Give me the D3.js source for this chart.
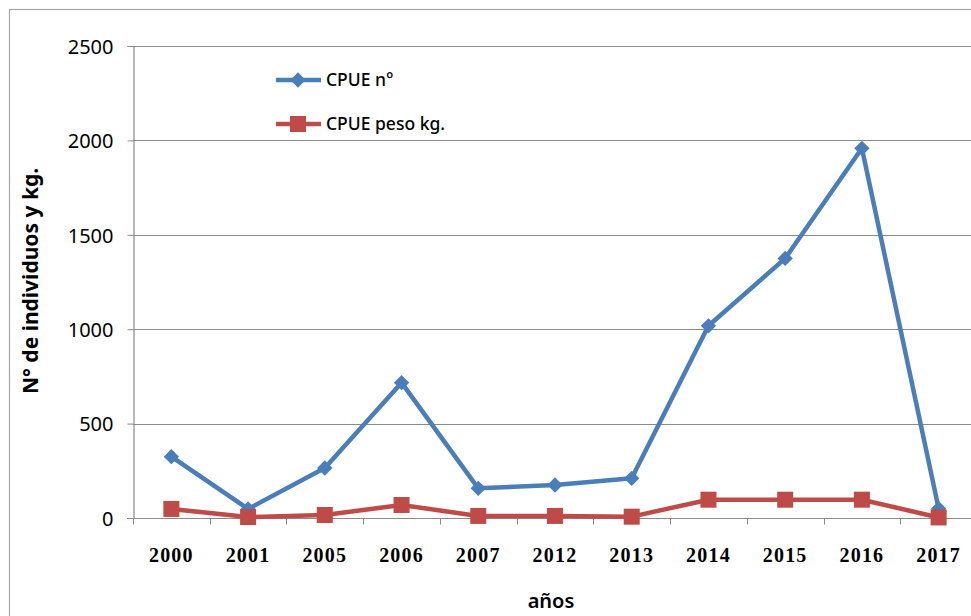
<!DOCTYPE html>
<html>
<head>
<meta charset="utf-8">
<script src="https://cdn.jsdelivr.net/npm/d3@7"></script>
<style>
  html, body { margin: 0; padding: 0; background: #fff; overflow: hidden; }
  svg { display: block; }
  text { font-family: "Noto Sans", "Open Sans", sans-serif; fill: #000; }
</style>
</head>
<body>
<svg id="chart" width="971" height="616"></svg>
<script>
// Catch per unit effort by year
const years = ["2000", "2001", "2005", "2006", "2007", "2012", "2013", "2014", "2015", "2016", "2017"];
const cpueNumber = [325, 48, 265, 717, 157, 175, 210, 1018, 1375, 1958, 50];
const cpueWeight = [48, 5, 16, 69, 11, 11, 7, 97, 97, 97, 3];
const yTicks = [0, 500, 1000, 1500, 2000, 2500];
const seriesNames = ["CPUE n°", "CPUE peso kg."];

const svg = d3.select("#chart");
const W = 971, H = 616;
const plot = { left: 133, right: 977, top: 46, bottom: 518 };

// outer chart frame
svg.append("rect")
  .attr("x", 9.5).attr("y", 9.5)
  .attr("width", W + 20).attr("height", H + 20)
  .attr("fill", "#fff").attr("stroke", "#a6a6a6").attr("stroke-width", 1.2);

const x = d3.scaleBand().domain(years).range([plot.left, plot.right]).padding(0);
const y = d3.scaleLinear().domain([0, 2500]).range([plot.bottom, plot.top]);

// horizontal gridlines
svg.append("g")
  .selectAll("line")
  .data(yTicks.filter(d => d > 0))
  .join("line")
  .attr("x1", plot.left).attr("x2", plot.right)
  .attr("y1", d => Math.round(y(d)) + 0.5).attr("y2", d => Math.round(y(d)) + 0.5)
  .attr("stroke", "#8a8a8a").attr("stroke-width", 1.2);

// y axis
const yAxis = svg.append("g")
  .attr("transform", `translate(${plot.left + 0.5},0)`)
  .call(d3.axisLeft(y).tickValues(yTicks).tickSize(6).tickPadding(14).tickFormat(d3.format("d")));
yAxis.select(".domain").attr("stroke", "#8a8a8a").attr("stroke-width", 1.2);
yAxis.selectAll(".tick line").attr("stroke", "#8a8a8a");
yAxis.selectAll(".tick text")
  .style("font-size", "20px").attr("fill", "#000").attr("dy", "0.36em");

// x axis with category boundary ticks
const xAxisG = svg.append("g").attr("transform", `translate(0,${plot.bottom + 0.5})`);
xAxisG.append("line")
  .attr("x1", plot.left - 6).attr("x2", plot.right)
  .attr("stroke", "#8a8a8a").attr("stroke-width", 1.2);
const bounds = years.map(d => x(d)).concat([x(years[years.length - 1]) + x.bandwidth()]);
xAxisG.selectAll("line.tk")
  .data(bounds)
  .join("line").attr("class", "tk")
  .attr("x1", d => Math.round(d) + 0.5).attr("x2", d => Math.round(d) + 0.5)
  .attr("y1", 0).attr("y2", 6)
  .attr("stroke", "#8a8a8a");
xAxisG.selectAll("text")
  .data(years)
  .join("text")
  .attr("x", d => x(d) + x.bandwidth() / 2)
  .attr("y", 43)
  .attr("text-anchor", "middle")
  .style("font-size", "20px").style("font-weight", "bold")
  .style("font-family", "'Liberation Serif', 'DejaVu Serif', serif")
  .attr("letter-spacing", "1.2px")
  .text(d => d);

// axis titles
svg.append("text")
  .attr("transform", `translate(38,281) rotate(-90)`)
  .attr("text-anchor", "middle")
  .style("font-size", "21px").style("font-weight", "bold")
  .text("N° de individuos y kg.");
svg.append("text")
  .attr("x", 551).attr("y", 608)
  .attr("text-anchor", "middle")
  .style("font-size", "20px").style("font-weight", "600")
  .text("años");

const cx = d => x(d) + x.bandwidth() / 2;
const blue = "#4a7ebb", red = "#be4b48";

// CPUE n° series
const lineGen = d3.line().x(d => cx(d[0])).y(d => y(d[1]));
const numPts = years.map((d, i) => [d, cpueNumber[i]]);
const wPts = years.map((d, i) => [d, cpueWeight[i]]);

svg.append("path").datum(numPts).attr("d", lineGen)
  .attr("fill", "none").attr("stroke", blue).attr("stroke-width", 4.5).attr("stroke-linejoin", "round");
const diamond = d3.symbol().type(d3.symbolDiamond2).size(150);
svg.append("g").selectAll("path")
  .data(numPts).join("path")
  .attr("d", diamond)
  .attr("transform", d => `translate(${cx(d[0])},${y(d[1])})`)
  .attr("fill", blue);

// CPUE peso kg. series
svg.append("path").datum(wPts).attr("d", lineGen)
  .attr("fill", "none").attr("stroke", red).attr("stroke-width", 4.5).attr("stroke-linejoin", "round");
svg.append("g").selectAll("rect")
  .data(wPts).join("rect")
  .attr("x", d => cx(d[0]) - 8).attr("y", d => y(d[1]) - 8)
  .attr("width", 16).attr("height", 16)
  .attr("fill", red);

// legend
const legend = svg.append("g");
const legendRows = [
  { name: seriesNames[0], color: blue, shape: "diamond", y: 80 },
  { name: seriesNames[1], color: red, shape: "square", y: 124 }
];
legendRows.forEach(r => {
  legend.append("line")
    .attr("x1", 276).attr("x2", 321).attr("y1", r.y).attr("y2", r.y)
    .attr("stroke", r.color).attr("stroke-width", 4.5);
  if (r.shape === "diamond") {
    legend.append("path").attr("d", diamond)
      .attr("transform", `translate(298,${r.y})`).attr("fill", r.color);
  } else {
    legend.append("rect").attr("x", 290).attr("y", r.y - 8)
      .attr("width", 16).attr("height", 16).attr("fill", r.color);
  }
  legend.append("text")
    .attr("x", 326).attr("y", r.y).attr("dy", "0.35em")
    .style("font-size", "17.5px").style("font-weight", "500")
    .text(r.name);
});
</script>
</body>
</html>
